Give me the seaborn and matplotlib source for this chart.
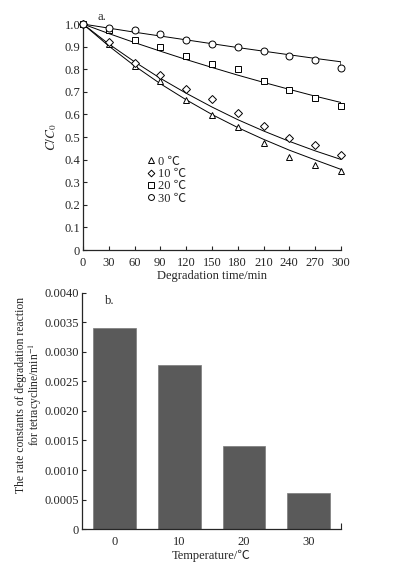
import numpy as np
import pandas as pd
import matplotlib
matplotlib.use("Agg")
import matplotlib.pyplot as plt
from matplotlib.lines import Line2D
import seaborn as sns

# ---------------- data ----------------
time_min = [0, 30, 60, 90, 120, 150, 180, 210, 240, 270, 300]
temp_labels = ["0 ℃", "10 ℃", "20 ℃", "30 ℃"]
markers = ["^", "D", "s", "o"]

c_0 = [1.0, 0.913, 0.816, 0.746, 0.662, 0.596, 0.543, 0.475, 0.410, 0.375, 0.351]
c_10 = [1.0, 0.919, 0.827, 0.776, 0.712, 0.667, 0.608, 0.550, 0.496, 0.463, 0.422]
c_20 = [1.0, 0.972, 0.929, 0.898, 0.857, 0.823, 0.802, 0.746, 0.707, 0.674, 0.636]
c_30 = [1.0, 0.984, 0.975, 0.956, 0.928, 0.912, 0.900, 0.880, 0.860, 0.840, 0.807]

fit_0 = [1.0, 0.903, 0.815, 0.736, 0.665, 0.600, 0.542, 0.490, 0.442, 0.399, 0.357]
fit_10 = [1.0, 0.912, 0.833, 0.760, 0.694, 0.633, 0.577, 0.527, 0.481, 0.439, 0.401]
fit_20 = [1.0, 0.958, 0.918, 0.880, 0.843, 0.808, 0.774, 0.742, 0.711, 0.681, 0.653]
fit_30 = [1.0, 0.982, 0.964, 0.947, 0.930, 0.913, 0.896, 0.880, 0.864, 0.848, 0.833]

temperatures = ["0", "10", "20", "30"]
rate_constants = [0.00340, 0.00278, 0.00141, 0.00061]

# ---------------- style ----------------
sns.set_style("ticks")
plt.rcParams["font.family"] = ["Liberation Serif", "Noto Sans CJK SC"]
plt.rcParams["mathtext.fontset"] = "stix"
plt.rcParams["axes.linewidth"] = 0.9
plt.rcParams["xtick.direction"] = "in"
plt.rcParams["ytick.direction"] = "in"

FS = 9
fig = plt.figure(figsize=(3.95, 5.67), dpi=100)
ax1 = fig.add_axes([0.210, 0.559, 0.653, 0.3986])
ax2 = fig.add_axes([0.2076, 0.067, 0.656, 0.4163])

# ---------------- panel a ----------------
series = [c_0, c_10, c_20, c_30]
fits = [fit_0, fit_10, fit_20, fit_30]
msizes = [5, 4, 5, 5]
for vals, fit, mk, ms in zip(series, fits, markers, msizes):
    fit_df = pd.DataFrame({"t": time_min + [time_min[-1]], "c": fit + [vals[-1]]})
    sns.lineplot(data=fit_df, x="t", y="c", ax=ax1, color="black", lw=0.7,
                 sort=False, estimator=None)
    ax1.plot(time_min, vals, linestyle="none", marker=mk, ms=ms, mfc="white",
             mec="black", mew=0.7, clip_on=False, zorder=3)

ax1.set_xlim(0, 300)
ax1.set_ylim(0, 1.0)
ax1.set_xticks(time_min)
ax1.set_xticklabels([str(t) for t in time_min], fontsize=FS)
yt = [0, 0.1, 0.2, 0.3, 0.4, 0.5, 0.6, 0.7, 0.8, 0.9, 1.0]
ax1.set_yticks(yt)
ax1.set_yticklabels(["0"] + [f"{v:.1f}" for v in yt[1:]], fontsize=FS)
ax1.tick_params(axis="x", length=3, width=0.8, pad=5)
ax1.tick_params(axis="y", length=3, width=0.8, pad=2)
sns.despine(ax=ax1)
ax1.set_xlabel("Degradation time/min", fontsize=FS, labelpad=1)
ax1.set_ylabel("$C/C_0$", fontsize=FS + 0.5, labelpad=4)
ax1.text(0.055, 1.005, "a.", transform=ax1.transAxes, fontsize=FS, va="bottom")

handles = [Line2D([], [], linestyle="none", marker=m, ms=s * 0.85, mfc="white",
                  mec="black", mew=0.7) for m, s in zip(markers, msizes)]
ax1.legend(handles, temp_labels, loc="upper left", bbox_to_anchor=(0.225, 0.445),
           frameon=False, fontsize=FS, handlelength=0.6, handletextpad=0.3,
           labelspacing=0.02, borderpad=0)

# ---------------- panel b ----------------
bar_df = pd.DataFrame({"temp": temperatures, "k": rate_constants})
sns.barplot(data=bar_df, x="temp", y="k", ax=ax2, color="#5a5a5a",
            saturation=1, width=0.66, edgecolor="#7a7a7a", linewidth=0.5)
ax2.set_xlim(-0.5, 3.5)
ax2.set_ylim(0, 0.004)
ykt = [0, 0.0005, 0.001, 0.0015, 0.002, 0.0025, 0.003, 0.0035, 0.004]
ax2.set_yticks(ykt)
ax2.set_yticklabels(["0"] + [f"{v:.4f}" for v in ykt[1:]], fontsize=FS)
ax2.set_xticks(range(len(temperatures)))
ax2.set_xticklabels(temperatures, fontsize=FS)
ax2.tick_params(axis="x", length=0, pad=5)
ax2.tick_params(axis="y", length=3, width=0.8, pad=2)
ax2.set_xticks([3.5], minor=True)
ax2.tick_params(axis="x", which="minor", length=4, width=0.8)
sns.despine(ax=ax2)
ax2.set_xlabel("Temperature/℃", fontsize=FS, labelpad=1)
ax2.set_ylabel("The rate constants of degradation reaction\nfor tetracycline/min$^{-1}$",
               fontsize=8.4, linespacing=1.05)
ax2.yaxis.set_label_coords(-0.145, 0.57)
ax2.text(0.09, 0.99, "b.", transform=ax2.transAxes, fontsize=FS, va="top")

fig.savefig("out.png", dpi=100)
